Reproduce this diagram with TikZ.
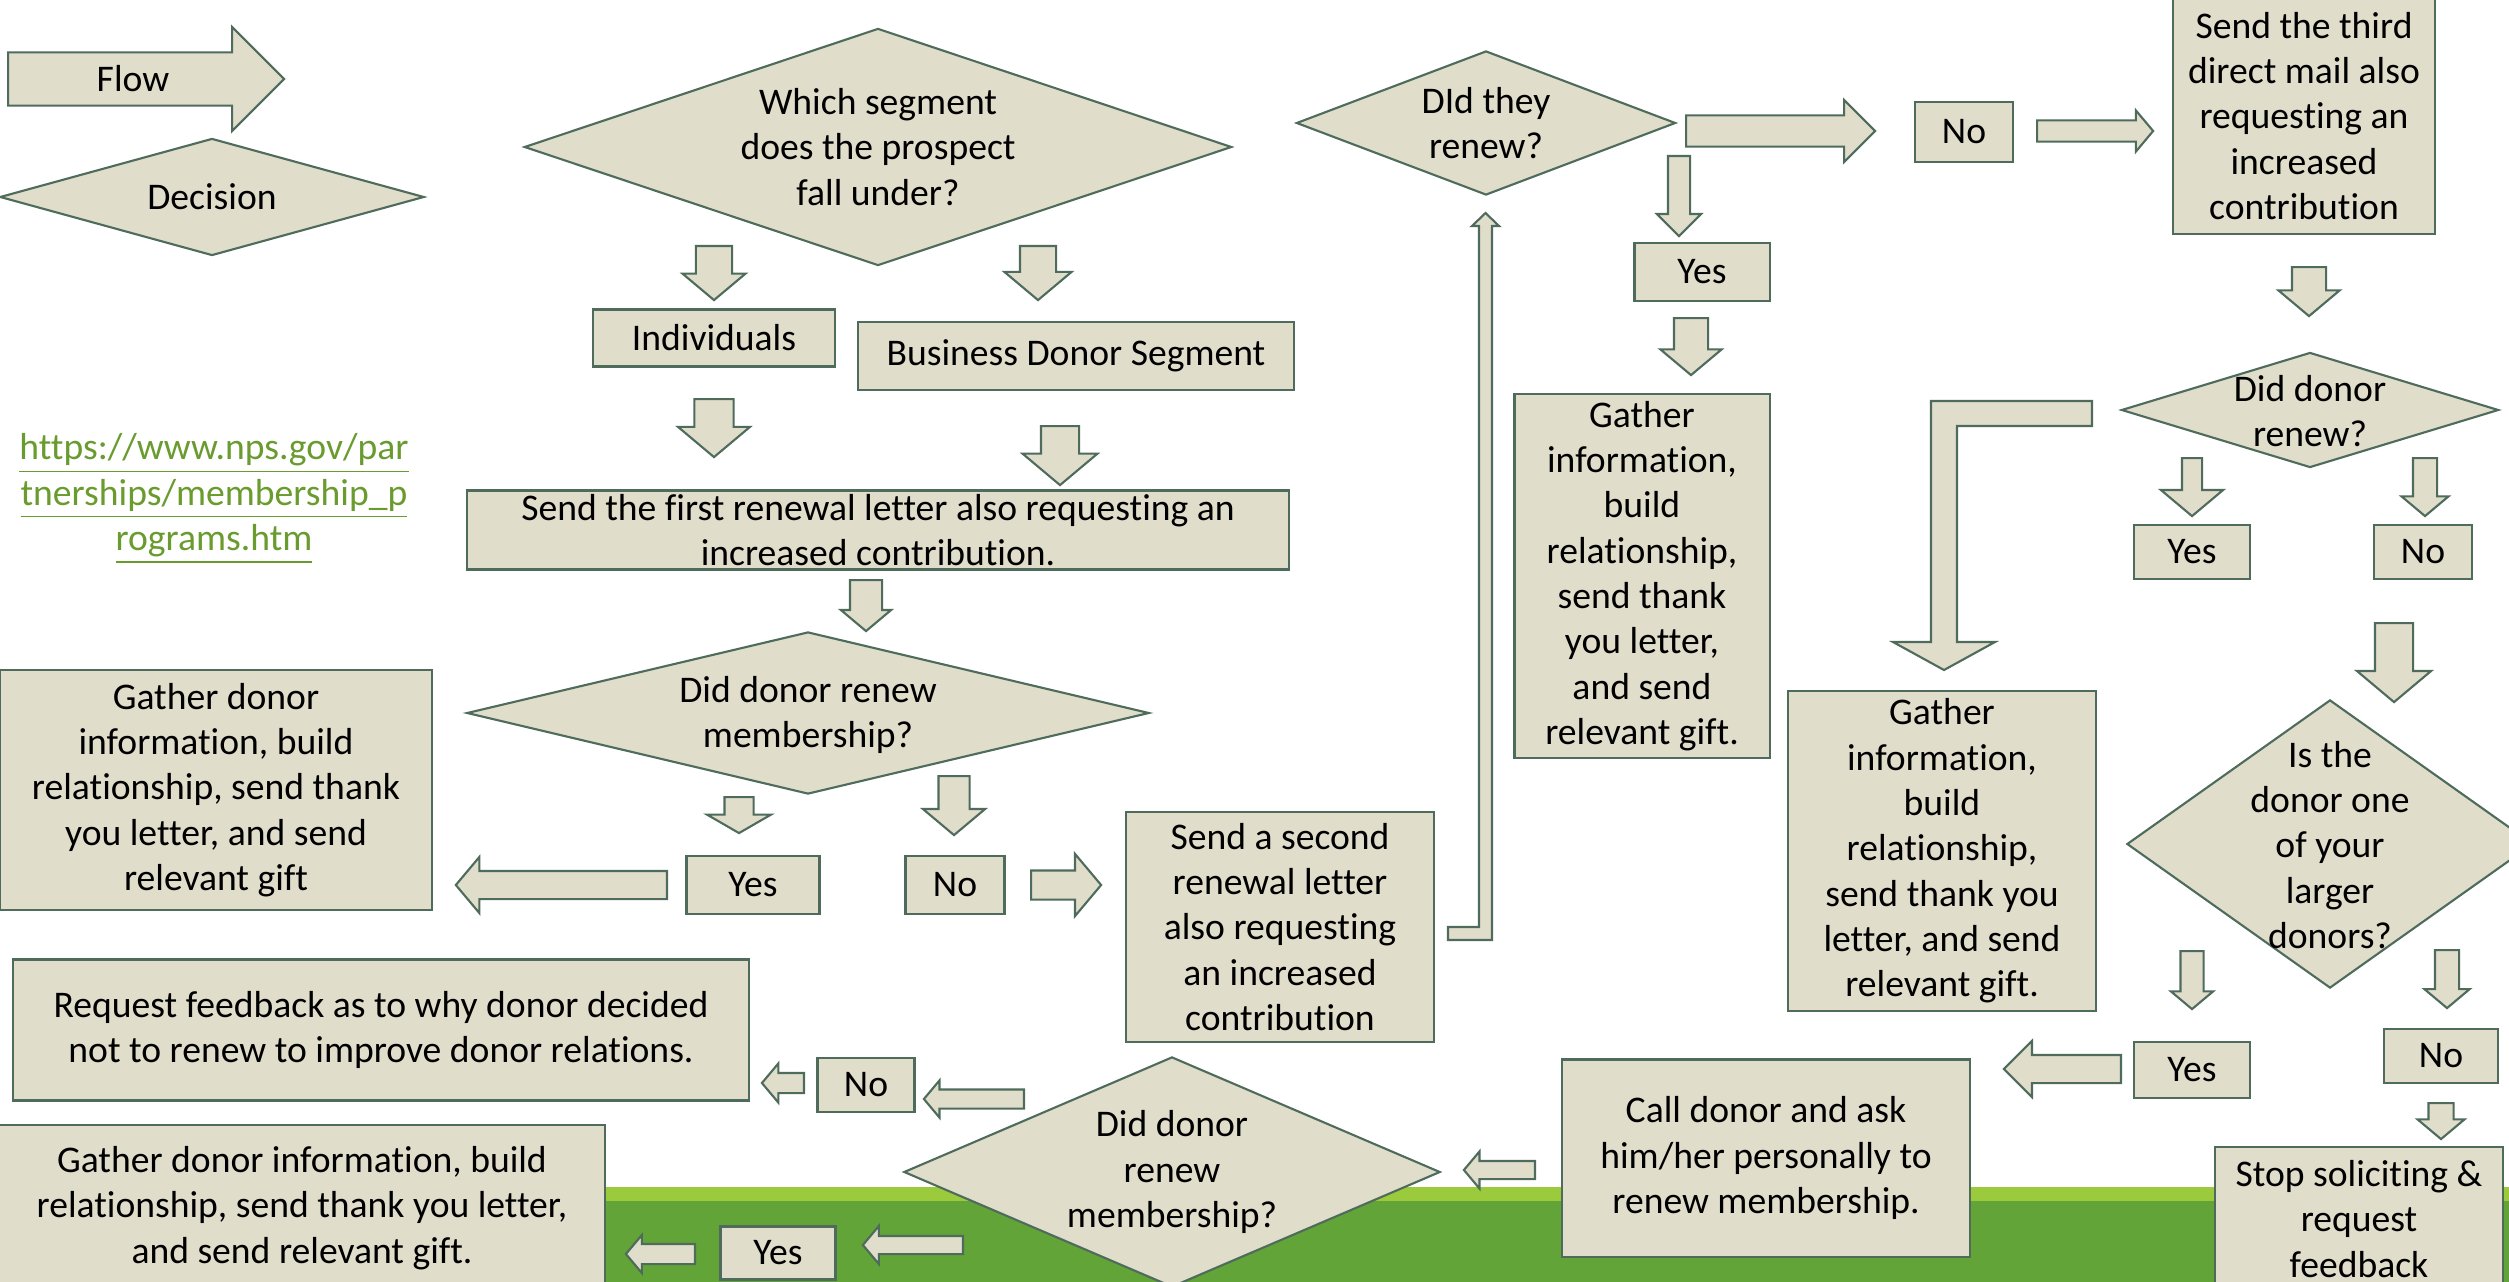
\documentclass[tikz,border=0pt]{standalone}
\usepackage{fontspec}
\setmainfont{Carlito}[RawFeature={-liga;-clig;-calt}]
\usetikzlibrary{shapes.geometric,shapes.arrows}
\definecolor{boxfill}{RGB}{224,221,203}
\definecolor{bord}{RGB}{78,107,92}
\definecolor{lgreen}{RGB}{155,202,60}
\definecolor{dgreen}{RGB}{99,164,56}
\definecolor{link}{RGB}{106,155,47}
\newcommand{\txtfont}{\fontsize{10.7}{12.9}\selectfont}

\begin{document}
\begin{tikzpicture}[x=0.01cm, y=-0.01cm,
  box/.style={rectangle, draw=bord, fill=boxfill, line width=0.6pt, inner sep=0pt, align=center, font=\txtfont},
  dec/.style={diamond, draw=bord, fill=boxfill, line width=0.6pt, inner sep=0pt},
  txt/.style={inner sep=0pt, align=center, font=\txtfont},
  blk/.style n args={3}{single arrow, draw=bord, fill=boxfill, line width=0.6pt, inner xsep=0pt, inner ysep={#2cm/2},
    minimum height=#1cm, minimum width=#3cm, single arrow head extend={(#3cm-#2cm)/2}, single arrow tip angle=100, anchor=tail},
  bent/.style={draw=bord, fill=boxfill, line width=0.6pt}]
\useasboundingbox (0,0) rectangle (2509,1282);
\fill[lgreen] (0,1187) rectangle (2509,1282);
\fill[dgreen] (0,1201) rectangle (2509,1282);

% legend
\node[blk={2.76}{.51}{1.02}, single arrow tip angle=90] (flow) at (7,79) {};
\node[txt] (flowt) at (133,79) {Flow};
\node[dec, minimum width=4.24cm, minimum height=1.17cm] (decis) at (212,197) {};
\node[txt] (decist) at (decis) {Decision};
\node[txt, text=link] (url) at (214,499) {\underline{https://www.nps.gov/par}\\\underline{tnerships/membership\_p}\\\underline{rograms.htm}};

% first letter
\node[dec, minimum width=7.07cm, minimum height=2.37cm] (seg) at (878,147) {};
\node[txt] (segt) at (seg) {Which segment\\does the prospect\\fall under?};
\node[blk={.54}{.34}{.61}, rotate=-90] (a1) at (714,245) {};
\node[blk={.54}{.34}{.65}, rotate=-90] (a2) at (1038,245) {};
\node[box, minimum width=2.41cm, minimum height=.57cm] (ind) at (714,338) {Individuals};
\node[box, minimum width=4.36cm, minimum height=.68cm] (bus) at (1076,356) {Business Donor Segment};
\node[blk={.58}{.37}{.70}, rotate=-90] (a3) at (714,398) {};
\node[blk={.59}{.36}{.73}, rotate=-90] (a4) at (1060,425) {};
\node[box, minimum width=8.21cm, minimum height=.79cm] (first) at (878,530) {Send the first renewal letter also requesting an\\increased contribution.};
\node[blk={.51}{.30}{.48}, rotate=-90] (a5) at (866,579) {};
\node[dec, minimum width=6.82cm, minimum height=1.62cm] (ren1) at (808,713) {};
\node[txt] (ren1t) at (808,715) {Did donor renew\\membership?};
\node[blk={.36}{.27}{.62}, rotate=-90, single arrow tip angle=120] (a6) at (739,796) {};
\node[blk={.59}{.29}{.60}, rotate=-90] (a7) at (954,775) {};
\node[box, minimum width=1.33cm, minimum height=.58cm] (yes1) at (753,885) {Yes};
\node[box, minimum width=.99cm, minimum height=.58cm] (no1) at (955,885) {No};
\node[blk={2.11}{.26}{.54}, rotate=180] (a8) at (668,885) {};
\node[box, minimum width=4.32cm, minimum height=2.40cm] (gath1) at (216,790) {Gather donor\\information, build\\relationship, send thank\\you letter, and send\\relevant gift};
\node[blk={.70}{.27}{.60}] (a9) at (1030,885) {};
\node[box, minimum width=3.08cm, minimum height=2.29cm] (second) at (1280,927) {Send a second\\renewal letter\\also requesting\\an increased\\contribution};
\draw[bent] (1448,927) -- (1479,927) -- (1479,226) -- (1472,226) -- (1485.5,213) -- (1499,226) -- (1492,226) -- (1492,940) -- (1448,940) -- cycle;

% second decision
\node[dec, minimum width=3.79cm, minimum height=1.44cm] (they) at (1486,123) {};
\node[txt] (theyt) at (they) {DId they\\renew?};
\node[blk={1.89}{.29}{.60}, single arrow tip angle=90] (a10) at (1685,131) {};
\node[box, minimum width=.98cm, minimum height=.60cm] (noT) at (1964,132) {No};
\node[blk={1.16}{.19}{.39}] (a12) at (2036,131) {};
\node[box, minimum width=2.62cm, minimum height=2.36cm] (third) at (2304,116) {Send the third\\direct mail also\\requesting an\\increased\\contribution};
\node[blk={.80}{.20}{.42}, rotate=-90, single arrow tip angle=90] (a11) at (1679,155) {};
\node[box, minimum width=1.35cm, minimum height=.58cm] (yesT) at (1702,272) {Yes};
\node[blk={.57}{.32}{.59}, rotate=-90] (a13) at (1691,317) {};
\node[box, minimum width=2.55cm, minimum height=3.64cm] (gath2) at (1642,576) {Gather\\information,\\build\\relationship,\\send thank\\you letter,\\and send\\relevant gift.};

% third mail
\node[blk={.49}{.32}{.59}, rotate=-90] (a14) at (2309,266) {};
\node[dec, minimum width=3.77cm, minimum height=1.15cm] (ren2) at (2310,410) {};
\node[txt] (ren2t) at (2310,411) {Did donor\\renew?};
\node[blk={.58}{.18}{.60}, rotate=-90] (a15) at (2192,457) {};
\node[blk={.58}{.22}{.45}, rotate=-90] (a16) at (2425,457) {};
\node[box, minimum width=1.16cm, minimum height=.54cm] (yesR) at (2192,552) {Yes};
\node[box, minimum width=.98cm, minimum height=.54cm] (noR) at (2423,552) {No};
\draw[bent] (2092,401) -- (1931,401) -- (1931,642) -- (1893,642) -- (1944,670) -- (1995,642) -- (1957,642) -- (1957,426) -- (2092,426) -- cycle;
\node[box, minimum width=3.07cm, minimum height=3.20cm] (gath3) at (1942,851) {Gather\\information,\\build\\relationship,\\send thank you\\letter, and send\\relevant gift.};
\node[blk={.79}{.36}{.72}, rotate=-90] (a17) at (2394,622) {};
\node[dec, minimum width=4.06cm, minimum height=2.88cm] (large) at (2330,844) {};
\node[txt] (larget) at (2330,845) {Is the\\donor one\\of your\\larger\\donors?};
\node[blk={.58}{.21}{.40}, rotate=-90] (a18) at (2192,950) {};
\node[blk={.58}{.22}{.43}, rotate=-90] (a19) at (2447,949) {};
\node[box, minimum width=1.16cm, minimum height=.56cm] (yesR2) at (2192,1070) {Yes};
\node[box, minimum width=1.14cm, minimum height=.54cm] (noR2) at (2441,1056) {No};
\node[blk={.36}{.23}{.45}, rotate=-90] (a20) at (2441,1102) {};
\node[box, minimum width=2.88cm, minimum height=1.44cm] (stop) at (2359,1219) {Stop soliciting \&\\request\\feedback};

% phone call
\node[blk={1.17}{.26}{.54}, rotate=180, single arrow tip angle=90] (a21) at (2122,1069) {};
\node[box, minimum width=4.07cm, minimum height=1.97cm] (call) at (1766,1158) {Call donor and ask\\him/her personally to\\renew membership.};
\node[blk={.71}{.16}{.35}, rotate=180] (a22) at (1536,1170) {};
\node[dec, minimum width=5.36cm, minimum height=2.30cm] (ren3) at (1172,1172) {};
\node[txt] (ren3t) at (ren3) {Did donor\\renew\\membership?};
\node[blk={1.00}{.17}{.35}, rotate=180] (a23) at (1025,1099) {};
\node[box, minimum width=.97cm, minimum height=.54cm] (noB) at (866,1085) {No};
\node[blk={.42}{.18}{.37}, rotate=180] (a24) at (805,1083) {};
\node[box, minimum width=7.36cm, minimum height=1.41cm] (req) at (381,1030) {Request feedback as to why donor decided\\not to renew to improve donor relations.};
\node[blk={1.00}{.16}{.36}, rotate=180] (a25) at (964,1245) {};
\node[box, minimum width=1.15cm, minimum height=.53cm] (yesB) at (778,1253) {Yes};
\node[blk={.69}{.18}{.36}, rotate=180] (a26) at (696,1254) {};
\node[box, minimum width=6.05cm, minimum height=1.66cm] (gath4) at (302,1208) {Gather donor information, build\\relationship, send thank you letter,\\and send relevant gift.};
\end{tikzpicture}
\end{document}
